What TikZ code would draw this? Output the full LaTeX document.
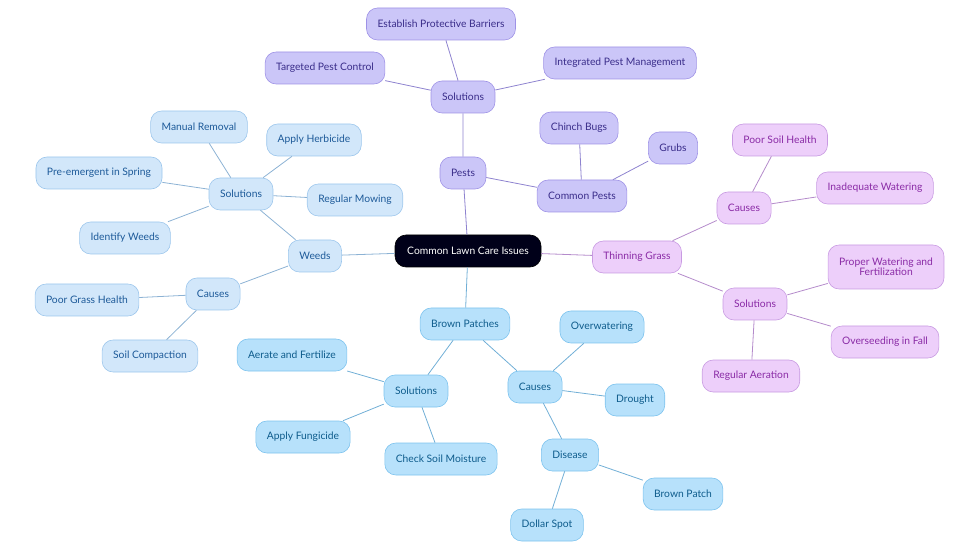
\documentclass[tikz,border=0pt]{standalone}
\usepackage{fontspec}
\setmainfont{Lato}
\begin{document}
\begin{tikzpicture}[x=1pt,y=-1pt,
 base/.style={rounded corners=11pt,minimum height=32pt,inner xsep=11pt,font=\fontsize{10.3}{12}\selectfont,align=center,line width=0.6pt},
 pu/.style={base,fill=pfill,draw=pdraw,text=ptext},
 wb/.style={base,fill=wfill,draw=wdraw,text=wtext},
 pk/.style={base,fill=kfill,draw=kdraw,text=ktext},
 bb/.style={base,fill=bfill,draw=bdraw,text=btext},
 pe/.style={draw=pdraw!90!black,line width=0.8pt},
 we/.style={draw=wdraw!90!black,line width=0.8pt},
 ke/.style={draw=kdraw!90!black,line width=0.8pt},
 be/.style={draw=bdraw!90!black,line width=0.8pt}]
\definecolor{pfill}{HTML}{CBC6F8}\definecolor{pdraw}{HTML}{9E92E6}\definecolor{ptext}{HTML}{3A2D8A}
\definecolor{wfill}{HTML}{D2E7FA}\definecolor{wdraw}{HTML}{9CC6EC}\definecolor{wtext}{HTML}{1D5A99}
\definecolor{kfill}{HTML}{EDCFFA}\definecolor{kdraw}{HTML}{C89BE2}\definecolor{ktext}{HTML}{8A2BA6}
\definecolor{bfill}{HTML}{B7E1FB}\definecolor{bdraw}{HTML}{7DC3EE}\definecolor{btext}{HTML}{0E5C8C}
\useasboundingbox (0,0) rectangle (980,553);
\node[base,fill=black!90!blue,text=white,draw=black,minimum width=146pt] (root) at (468,251) {Common Lawn Care Issues};
% pests
\node[pu] (pests) at (463,173) {Pests};
\node[pu] (ps) at (463,97) {Solutions};
\node[pu] (epb) at (441,24) {Establish Protective Barriers};
\node[pu] (tpc) at (325,68) {Targeted Pest Control};
\node[pu] (ipm) at (620,63) {Integrated Pest Management};
\node[pu] (cp) at (582,196) {Common Pests};
\node[pu] (cb) at (579,128) {Chinch Bugs};
\node[pu] (gr) at (673,148) {Grubs};
% weeds
\node[wb] (weeds) at (315,256) {Weeds};
\node[wb] (ws) at (241,194) {Solutions};
\node[wb] (mr) at (199,127) {Manual Removal};
\node[wb] (ah) at (314,140) {Apply Herbicide};
\node[wb] (pes) at (99,173) {Pre-emergent in Spring};
\node[wb] (rm) at (355,200) {Regular Mowing};
\node[wb] (iw) at (125,238) {Identify Weeds};
\node[wb] (wc) at (213,294) {Causes};
\node[wb] (pgh) at (87,300) {Poor Grass Health};
\node[wb] (sc) at (150,356) {Soil Compaction};
% thinning
\node[pk] (tg) at (637,257) {Thinning Grass};
\node[pk] (tc) at (744,208) {Causes};
\node[pk] (psh) at (780,140) {Poor Soil Health};
\node[pk] (iwat) at (875,188) {Inadequate Watering};
\node[pk] (ts) at (755,304) {Solutions};
\node[pk,minimum height=44pt] (pwf) at (886,267) {Proper Watering and\\[-2pt]Fertilization};
\node[pk] (oif) at (885,342) {Overseeding in Fall};
\node[pk] (ra) at (751,376) {Regular Aeration};
% brown
\node[bb] (bp) at (465,324) {Brown Patches};
\node[bb] (bc) at (535,387) {Causes};
\node[bb] (ow) at (602,327) {Overwatering};
\node[bb] (dr) at (635,400) {Drought};
\node[bb] (dis) at (570,455) {Disease};
\node[bb] (bpa) at (683,494) {Brown Patch};
\node[bb] (ds) at (547,525) {Dollar Spot};
\node[bb] (bs) at (416,391) {Solutions};
\node[bb] (aaf) at (292,355) {Aerate and Fertilize};
\node[bb] (af) at (303,437) {Apply Fungicide};
\node[bb] (csm) at (441,459) {Check Soil Moisture};
\path[pe] (root)--(pests) (pests)--(ps) (ps)--(epb) (ps)--(tpc) (ps)--(ipm) (pests)--(cp) (cp)--(cb) (cp)--(gr);
\path[we] (root)--(weeds) (weeds)--(ws) (ws)--(mr) (ws)--(ah) (ws)--(pes) (ws)--(rm) (ws)--(iw) (weeds)--(wc) (wc)--(pgh) (wc)--(sc);
\path[ke] (root)--(tg) (tg)--(tc) (tc)--(psh) (tc)--(iwat) (tg)--(ts) (ts)--(pwf) (ts)--(oif) (ts)--(ra);
\path[be] (root)--(bp) (bp)--(bc) (bc)--(ow) (bc)--(dr) (bc)--(dis) (dis)--(bpa) (dis)--(ds) (bp)--(bs) (bs)--(aaf) (bs)--(af) (bs)--(csm);
\end{tikzpicture}
\end{document}
